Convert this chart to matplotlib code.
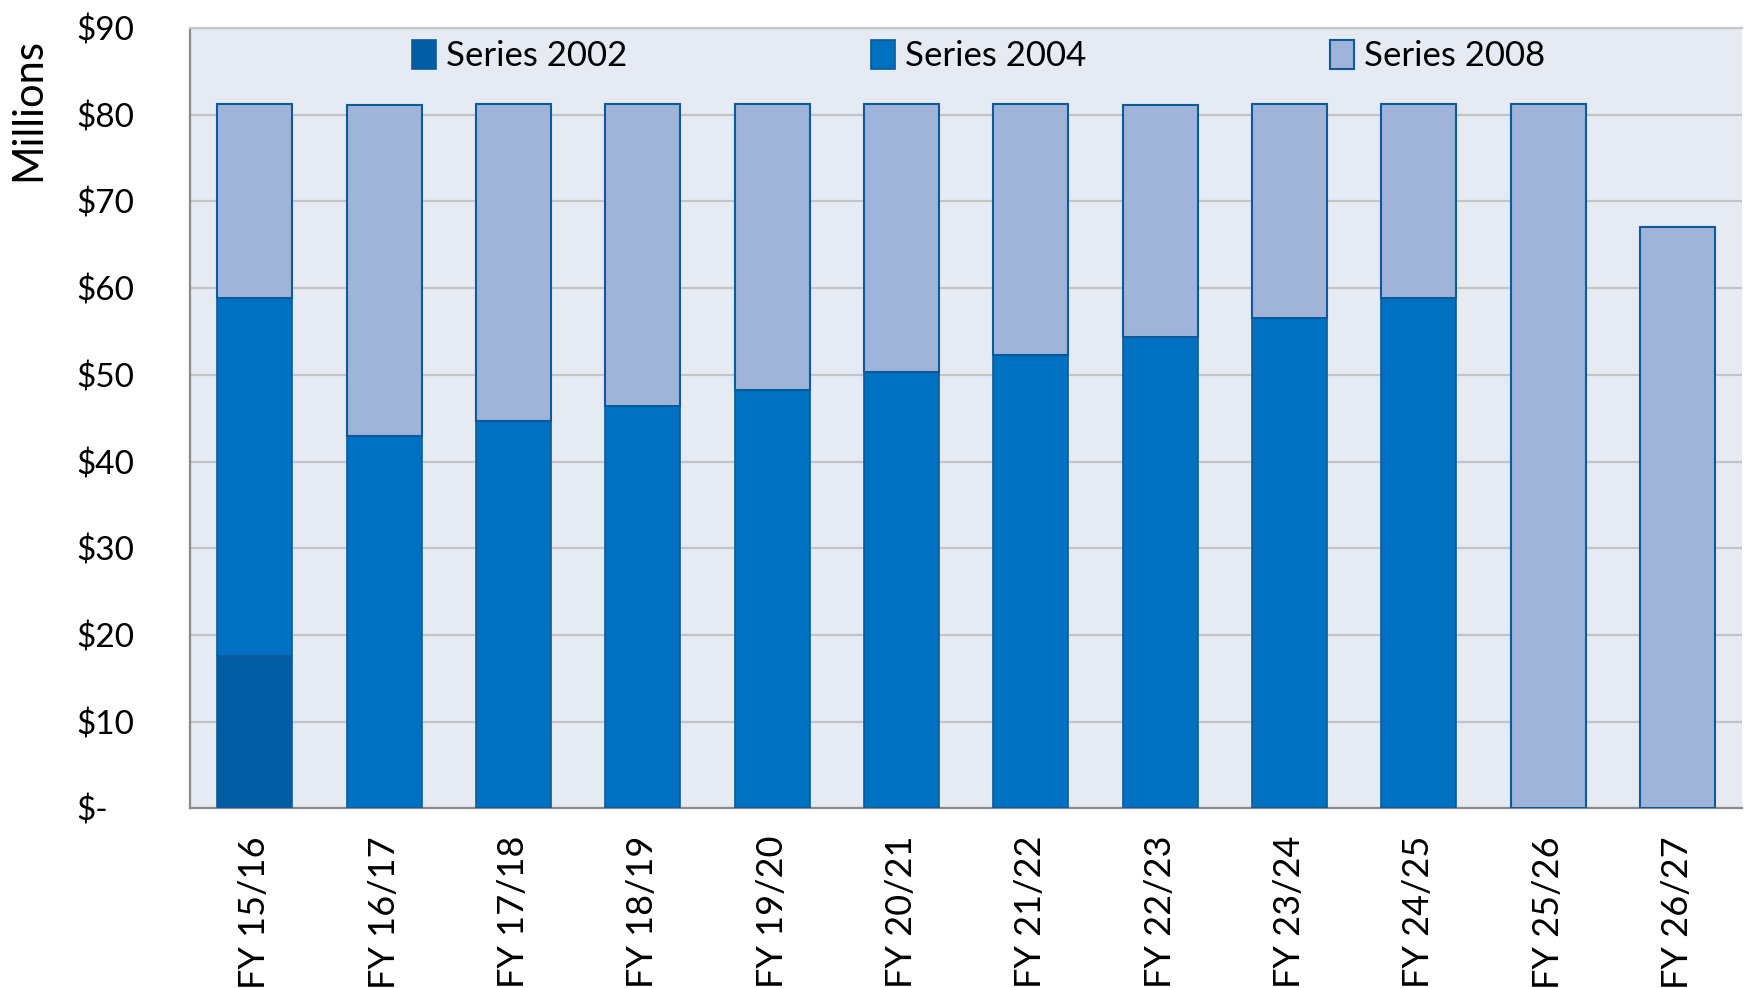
import numpy as np
import matplotlib.pyplot as plt

plt.rcParams['font.family'] = ['Lato', 'DejaVu Sans']

years = ['FY 15/16', 'FY 16/17', 'FY 17/18', 'FY 18/19', 'FY 19/20', 'FY 20/21',
         'FY 21/22', 'FY 22/23', 'FY 23/24', 'FY 24/25', 'FY 25/26', 'FY 26/27']
series_2002 = [17.6, 0, 0, 0, 0, 0, 0, 0, 0, 0, 0, 0]
series_2004 = [41.3, 42.9, 44.7, 46.4, 48.3, 50.3, 52.3, 54.4, 56.6, 58.9, 0, 0]
series_2008 = [22.4, 38.2, 36.6, 34.9, 33.0, 31.0, 29.0, 26.7, 24.7, 22.4, 81.3, 67.0]
yticks = [0, 10, 20, 30, 40, 50, 60, 70, 80, 90]
ytick_labels = ['$-', '$10', '$20', '$30', '$40', '$50', '$60', '$70', '$80', '$90']

fig = plt.figure(figsize=(17.48, 9.88), dpi=100)
ax = fig.add_axes([0.1087, 0.182, 0.888, 0.7895])
ax.set_facecolor('#E6EAF3')

x = np.arange(len(years))
w = 0.58
edge = '#0B5A9C'
s02 = np.array(series_2002)
s04 = np.array(series_2004)
s08 = np.array(series_2008)

ax.bar(x, s02, w, color='#005DA3', edgecolor=edge, linewidth=1.2, label='Series 2002', zorder=3)
ax.bar(x, s04, w, bottom=s02, color='#0070C0', edgecolor=edge, linewidth=1.2, label='Series 2004', zorder=3)
ax.bar(x, s08, w, bottom=s02 + s04, color='#A0B4DA', edgecolor=edge, linewidth=1.5, label='Series 2008', zorder=3)

ax.set_ylim(0, 90)
ax.set_xlim(-0.5, len(years) - 0.5)
ax.set_yticks(yticks)
ax.set_yticklabels(ytick_labels, fontsize=24)
ax.set_xticks(x)
ax.set_xticklabels(years, rotation=90, fontsize=26)
ax.tick_params(axis='both', length=0)
ax.tick_params(axis='y', pad=82)
ax.tick_params(axis='x', pad=20)
for lbl in ax.get_yticklabels():
    lbl.set_horizontalalignment('left')
ax.yaxis.grid(True, color='#C2C4C8', linewidth=1.6, zorder=0)

ax.spines['left'].set_color('#8A8A8A')
ax.spines['bottom'].set_color('#8A8A8A')
ax.spines['left'].set_linewidth(1.6)
ax.spines['bottom'].set_linewidth(1.6)
ax.spines['top'].set_color('#C8C8C8')
ax.spines['top'].set_linewidth(1.6)
ax.spines['right'].set_visible(False)

ax.set_ylabel('Millions', fontsize=30)
ax.yaxis.set_label_coords(-0.092, 0.896)

ax.legend(loc='center', bbox_to_anchor=(0.508, 0.964), ncol=3, frameon=False,
          fontsize=25, handlelength=0.7, handleheight=0.9, handletextpad=0.3,
          columnspacing=7.0)

fig.savefig('out.png', dpi=100)
